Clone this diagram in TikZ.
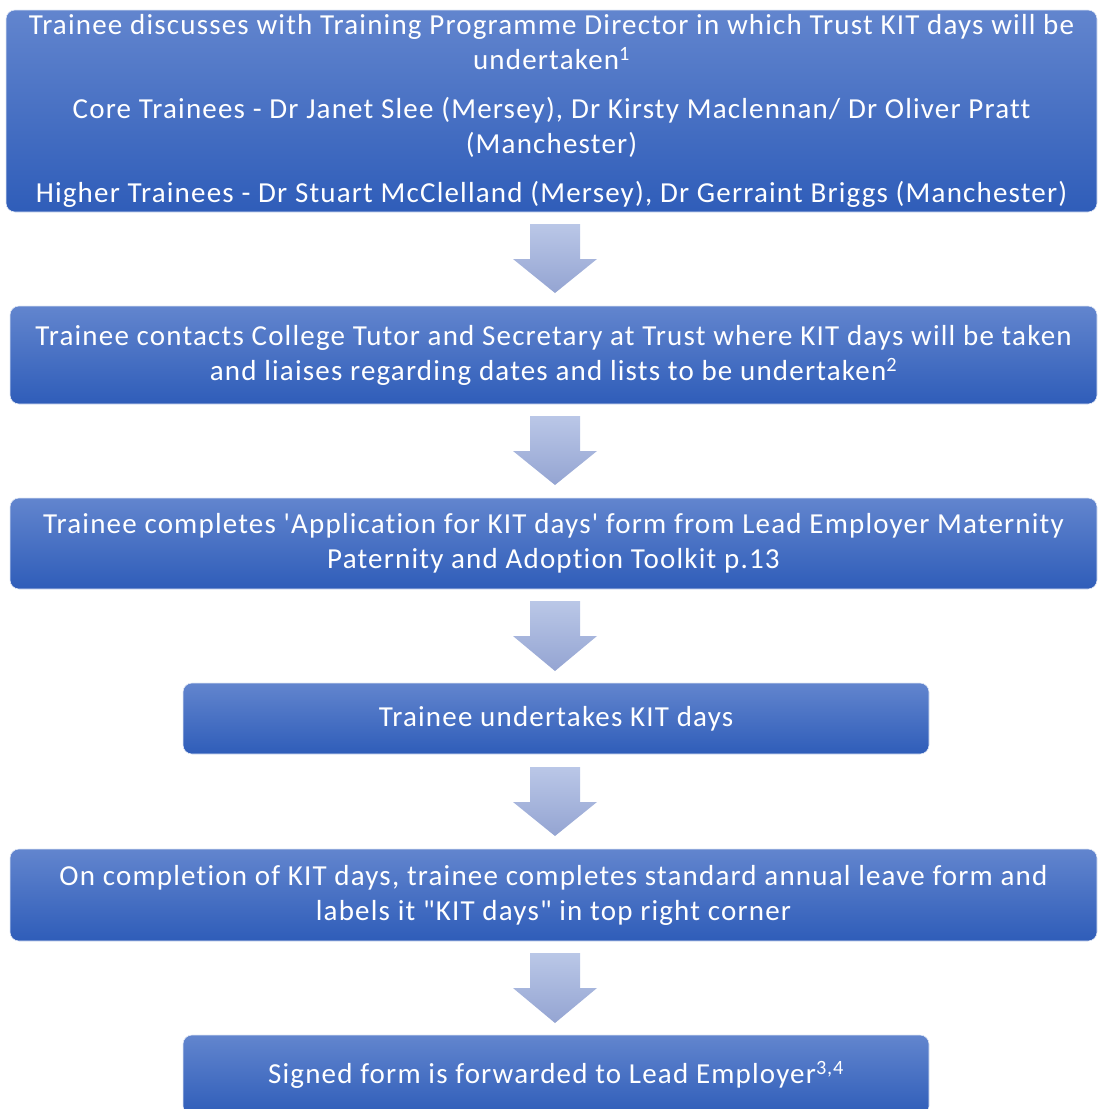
\documentclass[tikz,border=0pt]{standalone}
\usepackage{fontspec}
\setmainfont{Carlito}[LetterSpace=4.1, Ligatures={TeXOff,NoCommon}]
\definecolor{boxtop}{RGB}{98,133,206}
\definecolor{boxmid}{RGB}{68,114,198}
\definecolor{boxbot}{RGB}{47,93,185}
\definecolor{arrtop}{RGB}{186,199,231}
\definecolor{arrbot}{RGB}{148,164,210}
\begin{document}
\begin{tikzpicture}[x=1pt,y=-1pt,
  flowbox/.style={rounded corners=9pt, top color=boxtop, middle color=boxmid, bottom color=boxbot,
    draw=white!80!boxtop, line width=0.6pt, text=white, align=center, inner sep=0pt,
    font=\fontsize{29}{35}\selectfont},
  blockarrow/.style={top color=arrtop, bottom color=arrbot}]
\useasboundingbox (0,0) rectangle (1098,1109);
\node[flowbox, minimum width=1091pt, minimum height=202pt] (b1) at (551.5,111)
 {Trainee discusses with Training Programme Director in which Trust KIT days will be\\
  undertaken\textsuperscript{1}\\[14pt]
  Core Trainees - Dr Janet Slee (Mersey), Dr Kirsty Maclennan/ Dr Oliver Pratt\\
  (Manchester)\\[14pt]
  Higher Trainees - Dr Stuart McClelland (Mersey), Dr Gerraint Briggs (Manchester)};
\node[flowbox, minimum width=1087pt, minimum height=98pt] (b2) at (553.5,355)
 {Trainee contacts College Tutor and Secretary at Trust where KIT days will be taken\\
  and liaises regarding dates and lists to be undertaken\textsuperscript{2}};
\node[flowbox, minimum width=1087pt, minimum height=91pt] (b3) at (553.5,543.5)
 {Trainee completes 'Application for KIT days' form from Lead Employer Maternity\\
  Paternity and Adoption Toolkit p.13};
\node[flowbox, minimum width=746pt, minimum height=71pt] (b4) at (556,718.5)
 {Trainee undertakes KIT days};
\node[flowbox, minimum width=1087pt, minimum height=92pt] (b5) at (553.5,895)
 {On completion of KIT days, trainee completes standard annual leave form and\\
  labels it "KIT days" in top right corner};
\node[flowbox, minimum width=746pt, minimum height=80pt] (b6) at (556,1075)
 {Signed form is forwarded to Lead Employer\textsuperscript{3,4}};
\foreach \t/\b in {224/293, 416/485, 601/671, 767/836, 953/1023}{
  \shade[blockarrow] (530,\t) -- (580,\t) -- (580,\t+35) -- (597,\t+35) -- (555,\b)
    -- (513,\t+35) -- (530,\t+35) -- cycle;
}
\end{tikzpicture}
\end{document}
